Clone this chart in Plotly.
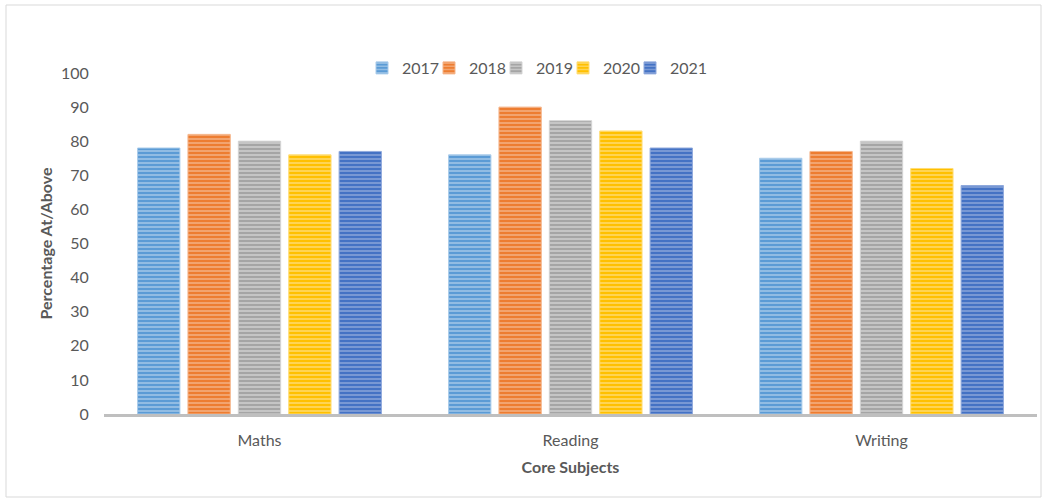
import plotly.graph_objects as go

categories = ["Maths", "Reading", "Writing"]
years = ["2017", "2018", "2019", "2020", "2021"]
values_2017 = [78, 76, 75]
values_2018 = [82, 90, 77]
values_2019 = [80, 86, 80]
values_2020 = [76, 83, 72]
values_2021 = [77, 78, 67]
series = [values_2017, values_2018, values_2019, values_2020, values_2021]
colors = ["#5B9BD5", "#ED7D31", "#A5A5A5", "#FFC000", "#4472C4"]
light = ["#A9CBEA", "#F5B58A", "#D3D3D3", "#FFDD77", "#8FA9DC"]

W, H = 1048, 502
ml, mr, mt, mb = 104, 11, 73, 88

fig = go.Figure()
for y, vals, c, lc in zip(years, series, colors, light):
    fig.add_trace(go.Bar(
        x=categories, y=vals, name=y,
        marker=dict(color=c, line=dict(color=lc, width=1),
                    pattern=dict(shape="-", fgcolor=lc, bgcolor=c, size=4, solidity=0.35, fillmode="replace")),
    ))
# spacer legend entry (invisible) so the last label is not clipped
fig.add_trace(go.Scatter(x=[None], y=[None], name="", mode="markers", hoverinfo="skip",
                         marker=dict(color="rgba(0,0,0,0)", opacity=0)))

pw = W - ml - mr
ph = H - mt - mb
fig.add_shape(type="rect", xref="paper", yref="paper",
              x0=(6 - ml) / pw, x1=(1041 - ml) / pw,
              y0=-(497 - mt - ph) / ph, y1=(ph + mt - 5) / ph,
              line=dict(color="#D9D9D9", width=1), fillcolor="rgba(0,0,0,0)", layer="below")

fig.update_layout(
    width=W, height=H,
    margin=dict(l=ml, r=mr, t=mt, b=mb),
    paper_bgcolor="white", plot_bgcolor="white",
    font=dict(family="Lato", color="#595959", size=16),
    barmode="group", bargap=0.19, bargroupgap=0.16,
    legend=dict(orientation="h", x=(362 - ml) / pw, xanchor="left", y=(ph + mt - 68) / ph, yanchor="middle",
                font=dict(size=16, color="#595959"), itemwidth=30, entrywidth=22, entrywidthmode="pixels",
                traceorder="normal"),
    xaxis=dict(showline=True, linecolor="#BFBFBF", linewidth=3, ticks="", showgrid=False,
               tickfont=dict(size=16, color="#595959"), ticklabelstandoff=10,
               title=dict(text="<b>Core Subjects</b>", font=dict(size=16, color="#595959"), standoff=14)),
    yaxis=dict(range=[0, 100], dtick=10, showgrid=False, showline=False, zeroline=False,
               tickfont=dict(size=16, color="#595959"), ticklen=11, tickcolor="white", ticks="outside",
               title=dict(text="<b>Percentage At/Above</b>", font=dict(size=16, color="#595959"), standoff=4)),
)

fig.write_html("out.html")
